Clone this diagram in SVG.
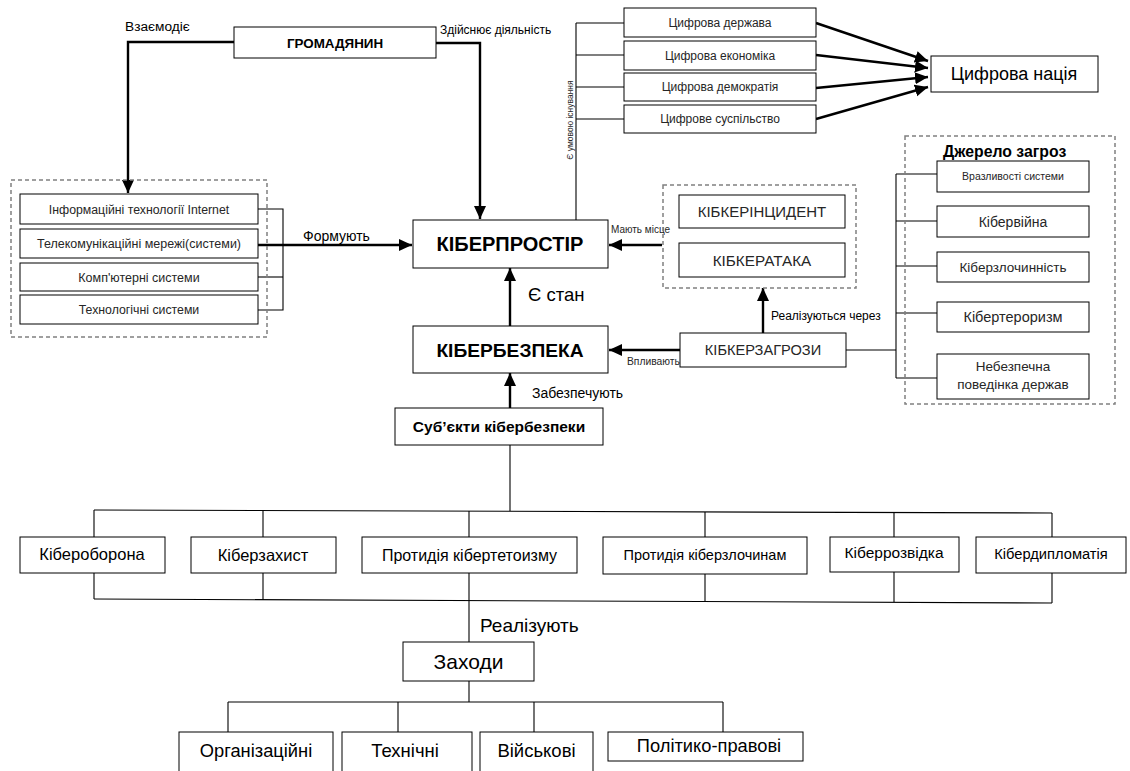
<svg xmlns="http://www.w3.org/2000/svg" width="1130" height="771" viewBox="0 0 1130 771">
<style>
text{font-family:"Liberation Sans",Arial,sans-serif;fill:#000}
.box{fill:#fff;stroke:#000;stroke-width:1}
.dash{fill:none;stroke:#808080;stroke-width:1.5;stroke-dasharray:4 3}
.thin{fill:none;stroke:#000;stroke-width:1.1}
.thick{fill:none;stroke:#000;stroke-width:2.4}
.c{text-anchor:middle}
.g{fill:#262626}
.b{font-weight:bold}
</style>
<defs>
<marker id="ah" markerUnits="userSpaceOnUse" markerWidth="14" markerHeight="14" viewBox="0 0 14 14" refX="13" refY="7" orient="auto">
<path d="M0,1 L13,7 L0,13 Z" fill="#000"/>
</marker>
</defs>
<rect width="1130" height="771" fill="#fff"/>

<g id="connectors">
<polyline class="thick" points="234,42 128,42 128,193" marker-end="url(#ah)"/>
<polyline class="thick" points="436,43 480,43 480,219" marker-end="url(#ah)"/>
<polyline class="thin" points="258,209 283,209 283,310 258,310"/>
<line class="thin" x1="258" y1="277" x2="283" y2="277"/>
<line class="thick" x1="258" y1="245" x2="412" y2="245" marker-end="url(#ah)"/>
<line class="thin" x1="576" y1="23" x2="576" y2="220"/>
<line class="thin" x1="576" y1="23" x2="624" y2="23"/>
<line class="thin" x1="576" y1="55" x2="624" y2="55"/>
<line class="thin" x1="576" y1="87" x2="624" y2="87"/>
<line class="thin" x1="576" y1="119" x2="624" y2="119"/>
<line class="thick" x1="816" y1="23" x2="928" y2="61" marker-end="url(#ah)"/>
<line class="thick" x1="816" y1="55" x2="928" y2="68" marker-end="url(#ah)"/>
<line class="thick" x1="816" y1="88" x2="928" y2="77" marker-end="url(#ah)"/>
<line class="thick" x1="816" y1="119" x2="928" y2="87" marker-end="url(#ah)"/>
<line class="thick" x1="662" y1="245" x2="609" y2="245" marker-end="url(#ah)"/>
<line class="thick" x1="510" y1="326" x2="510" y2="268" marker-end="url(#ah)"/>
<line class="thick" x1="510" y1="408" x2="510" y2="373" marker-end="url(#ah)"/>
<line class="thick" x1="680" y1="350" x2="609" y2="350" marker-end="url(#ah)"/>
<line class="thick" x1="763" y1="333" x2="763" y2="288" marker-end="url(#ah)"/>
<line class="thin" x1="846" y1="350" x2="896" y2="350"/>
<line class="thin" x1="896" y1="174" x2="896" y2="378"/>
<line class="thin" x1="896" y1="174" x2="937" y2="174"/>
<line class="thin" x1="896" y1="221" x2="937" y2="221"/>
<line class="thin" x1="896" y1="266" x2="937" y2="266"/>
<line class="thin" x1="896" y1="313" x2="937" y2="313"/>
<line class="thin" x1="896" y1="378" x2="937" y2="378"/>
<line class="thin" x1="510" y1="445" x2="510" y2="511"/>
<line class="thin" x1="94" y1="510" x2="1052" y2="513"/>
<line class="thin" x1="94" y1="510" x2="94" y2="537"/>
<line class="thin" x1="263" y1="511" x2="263" y2="537"/>
<line class="thin" x1="469" y1="511" x2="469" y2="537"/>
<line class="thin" x1="705" y1="512" x2="705" y2="537"/>
<line class="thin" x1="894" y1="512" x2="894" y2="537"/>
<line class="thin" x1="1052" y1="513" x2="1052" y2="537"/>
<line class="thin" x1="94" y1="599" x2="1052" y2="603"/>
<line class="thin" x1="94" y1="573" x2="94" y2="599"/>
<line class="thin" x1="263" y1="573" x2="263" y2="600"/>
<line class="thin" x1="469" y1="573" x2="469" y2="642"/>
<line class="thin" x1="705" y1="574" x2="705" y2="602"/>
<line class="thin" x1="894" y1="572" x2="894" y2="602"/>
<line class="thin" x1="1052" y1="573" x2="1052" y2="603"/>
<line class="thin" x1="469" y1="681" x2="469" y2="702"/>
<line class="thin" x1="228" y1="702" x2="723" y2="702"/>
<line class="thin" x1="228" y1="702" x2="228" y2="732"/>
<line class="thin" x1="398" y1="702" x2="398" y2="732"/>
<line class="thin" x1="534" y1="702" x2="534" y2="732"/>
<line class="thin" x1="723" y1="702" x2="723" y2="732"/>
</g>

<g id="labels">
<text x="125" y="31" font-size="13.7">Взаємодіє</text>
<text x="440" y="34" font-size="12">Здійснює діяльність</text>
<text x="303" y="241" font-size="14">Формують</text>
<text x="611" y="233" font-size="10" class="g">Мають місце</text>
<text x="528" y="301" font-size="18.5">Є стан</text>
<text x="771" y="320" font-size="12">Реалізуються через</text>
<text x="627" y="365" font-size="10.3" class="g">Впливають</text>
<text x="532" y="398" font-size="14">Забезпечують</text>
<text x="480" y="632" font-size="19">Реалізують</text>
<text transform="translate(573,120) rotate(-90)" font-size="8.5" class="c g">Є умовою існування</text>
</g>

<g id="gromadyanyn"><rect class="box" x="234" y="27" width="202" height="31"/><text x="335" y="47.5" font-size="13.4" class="c b">ГРОМАДЯНИН</text></g>

<g id="tech-group">
<rect class="dash" x="11" y="180" width="256" height="157"/>
<g id="t1"><rect class="box" x="20" y="194" width="238" height="30"/><text x="139" y="213.5" font-size="12.3" class="c g">Інформаційні технології Internet</text></g>
<g id="t2"><rect class="box" x="20" y="229" width="238" height="29"/><text x="139" y="248" font-size="12.5" class="c g">Телекомунікаційні мережі(системи)</text></g>
<g id="t3"><rect class="box" x="20" y="263" width="238" height="28"/><text x="139" y="281.5" font-size="12.5" class="c g">Комп'ютерні системи</text></g>
<g id="t4"><rect class="box" x="20" y="295" width="238" height="29"/><text x="139" y="314" font-size="12.3" class="c g">Технологічні системи</text></g>
</g>

<g id="d1"><rect class="box" x="624" y="8" width="192" height="29"/><text x="720" y="26.7" font-size="12" class="c g">Цифрова держава</text></g>
<g id="d2"><rect class="box" x="624" y="41" width="192" height="29"/><text x="720" y="59.7" font-size="12" class="c g">Цифрова економіка</text></g>
<g id="d3"><rect class="box" x="624" y="73" width="192" height="28"/><text x="720" y="91.2" font-size="12" class="c g">Цифрова демократія</text></g>
<g id="d4"><rect class="box" x="624" y="105" width="192" height="28"/><text x="720" y="123.2" font-size="12" class="c g">Цифрове суспільство</text></g>
<g id="nation"><rect class="box" x="931" y="56" width="167" height="36"/><text x="1014" y="80.3" font-size="18" class="c">Цифрова нація</text></g>

<g id="cyberspace"><rect class="box" x="413" y="220" width="195" height="48"/><text x="510" y="251" font-size="20" class="c b">КІБЕРПРОСТІР</text></g>
<g id="cybersecurity"><rect class="box" x="413" y="326" width="195" height="47"/><text x="510" y="356.5" font-size="19.2" class="c b">КІБЕРБЕЗПЕКА</text></g>

<g id="incidents">
<rect class="dash" x="663" y="185" width="193" height="103"/>
<g id="incident"><rect class="box" x="679" y="195" width="166" height="33"/><text x="762" y="217" font-size="15" class="c g">КІБКЕРІНЦИДЕНТ</text></g>
<g id="attack"><rect class="box" x="679" y="243" width="166" height="34"/><text x="762" y="265.5" font-size="15.3" class="c g">КІБКЕРАТАКА</text></g>
</g>
<g id="threats"><rect class="box" x="680" y="333" width="166" height="34"/><text x="763" y="355.2" font-size="14.6" class="c g">КІБКЕРЗАГРОЗИ</text></g>

<g id="sources">
<rect class="dash" x="905" y="136" width="210" height="268"/>
<text x="943" y="157" font-size="15.8" class="b">Джерело загроз</text>
<g id="s1"><rect class="box" x="937" y="161" width="152" height="31"/><text x="1013" y="180.2" font-size="10.5" class="c g">Вразливості системи</text></g>
<g id="s2"><rect class="box" x="937" y="206" width="152" height="31"/><text x="1013" y="226.5" font-size="14" class="c g">Кібервійна</text></g>
<g id="s3"><rect class="box" x="937" y="252" width="152" height="30"/><text x="1013" y="271.7" font-size="13.5" class="c g">Кіберзлочинність</text></g>
<g id="s4"><rect class="box" x="937" y="302" width="152" height="30"/><text x="1013" y="322" font-size="14.5" class="c g">Кібертероризм</text></g>
<g id="s5"><rect class="box" x="937" y="354" width="152" height="45"/><text x="1013" y="371" font-size="13.5" class="c g">Небезпечна</text><text x="1013" y="389" font-size="13.5" class="c g">поведінка держав</text></g>
</g>

<g id="subjects"><rect class="box" x="395" y="408" width="208" height="37"/><text x="499" y="432" font-size="15.5" class="c b">Суб’єкти кібербезпеки</text></g>

<g id="a1"><rect class="box" x="20" y="537" width="145" height="36"/><text x="92" y="560" font-size="16.5" class="c">Кібероборона</text></g>
<g id="a2"><rect class="box" x="191" y="537" width="145" height="36"/><text x="263" y="561" font-size="16.5" class="c">Кіберзахист</text></g>
<g id="a3"><rect class="box" x="362" y="537" width="215" height="36"/><text x="469.5" y="561" font-size="16" class="c">Протидія кібертетоизму</text></g>
<g id="a4"><rect class="box" x="603" y="537" width="204" height="37"/><text x="705" y="560" font-size="14.5" class="c">Протидія кіберзлочинам</text></g>
<g id="a5"><rect class="box" x="830" y="537" width="129" height="35"/><text x="894" y="558" font-size="15.5" class="c">Кіберрозвідка</text></g>
<g id="a6"><rect class="box" x="976" y="537" width="150" height="36"/><text x="1051" y="559" font-size="14.7" class="c">Кібердипломатія</text></g>

<g id="measures"><rect class="box" x="403" y="642" width="131" height="39"/><text x="468.5" y="669" font-size="21" class="c">Заходи</text></g>

<g id="m1"><rect class="box" x="179" y="732" width="154" height="45"/><text x="256" y="757" font-size="18.3" class="c">Організаційні</text></g>
<g id="m2"><rect class="box" x="342" y="732" width="130" height="45"/><text x="405" y="757" font-size="18.5" class="c">Технічні</text></g>
<g id="m3"><rect class="box" x="480" y="732" width="113" height="45"/><text x="536.5" y="757" font-size="18.5" class="c">Військові</text></g>
<g id="m4"><rect class="box" x="608" y="732" width="195" height="29"/><text x="709" y="752" font-size="18.3" class="c">Політико-правові</text></g>
</svg>
